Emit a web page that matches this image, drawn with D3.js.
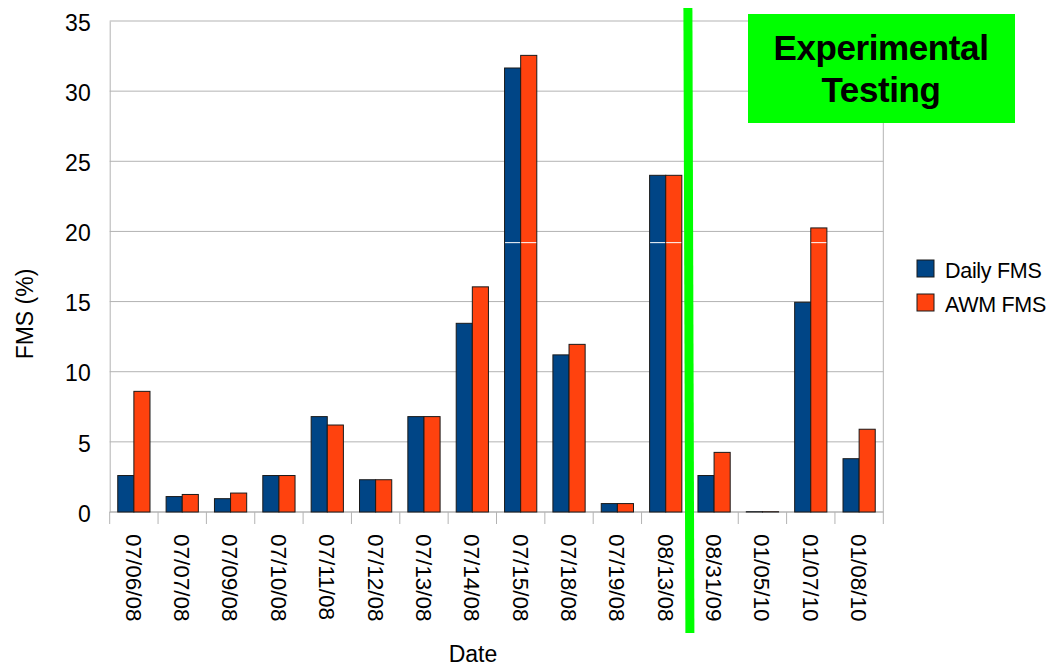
<!DOCTYPE html>
<html>
<head>
<meta charset="utf-8">
<script src="https://cdn.jsdelivr.net/npm/d3@7"></script>
<style>
  body { margin: 0; background: #fff; }
  svg text { font-family: "Liberation Sans", Arial, sans-serif; }
</style>
</head>
<body>
<div id="chart"></div>
<script>
const dates = ["07/06/08", "07/07/08", "07/09/08", "07/10/08", "07/11/08", "07/12/08", "07/13/08", "07/14/08",
  "07/15/08", "07/18/08", "07/19/08", "08/13/08", "08/31/09", "01/05/10", "01/07/10", "01/08/10"];
const dailyFMS = [2.6, 1.1, 0.95, 2.6, 6.8, 2.3, 6.8, 13.45, 31.65, 11.2, 0.6, 24.0, 2.6, 0.02, 14.95, 3.8];
const awmFMS = [8.6, 1.25, 1.35, 2.6, 6.2, 2.3, 6.8, 16.05, 32.55, 11.95, 0.6, 24.0, 4.25, 0.02, 20.25, 5.9];
const seriesNames = ["Daily FMS", "AWM FMS"];
const yTicks = [0, 5, 10, 15, 20, 25, 30, 35];

const colors = ["#004586", "#ff420e"];
const W = 1050, H = 667;
const plotLeft = 109.7, plotRight = 883.3, plotTop = 21, plotBottom = 512;

let svg = d3.select("#chart").append("svg")
  .attr("width", W)
  .attr("height", H);

let x = d3.scaleBand().domain(dates).range([plotLeft, plotRight]);
let bw = x.bandwidth();
let xSub = d3.scaleBand().domain(seriesNames).range([bw / 6, bw * 5 / 6]);
let y = d3.scaleLinear().domain([0, 35]).range([plotBottom, plotTop]);

// grid lines
svg.append("g")
  .selectAll("line")
  .data(yTicks)
  .enter()
  .append("line")
  .attr("x1", plotLeft).attr("x2", plotRight)
  .attr("y1", d => y(d)).attr("y2", d => y(d))
  .style("stroke", "#b3b3b3")
  .style("stroke-width", "1px");

// y axis
let yAxis = svg.append("g")
  .attr("transform", `translate(${plotLeft},0)`)
  .call(d3.axisLeft(y).tickValues(yTicks).tickSize(0).tickPadding(19));
yAxis.select(".domain").style("stroke", "#b3b3b3");
yAxis.selectAll("text")
  .style("font-size", "23px")
  .attr("dy", "0.4em")
  .attr("fill", "#000");

// right border
svg.append("line")
  .attr("x1", plotRight).attr("x2", plotRight)
  .attr("y1", plotTop).attr("y2", plotBottom)
  .style("stroke", "#b3b3b3");

// x axis ticks at band edges
let edges = dates.map(d => x(d)).concat([plotRight]);
svg.append("g")
  .selectAll("line")
  .data(edges)
  .enter()
  .append("line")
  .attr("x1", d => d).attr("x2", d => d)
  .attr("y1", plotBottom).attr("y2", plotBottom + 12)
  .style("stroke", "#b3b3b3");
svg.append("line")
  .attr("x1", plotLeft).attr("x2", plotRight)
  .attr("y1", plotBottom).attr("y2", plotBottom)
  .style("stroke", "#b3b3b3");

// x labels
svg.append("g")
  .selectAll("text")
  .data(dates)
  .enter()
  .append("text")
  .attr("transform", d => `translate(${x(d) + bw / 2},${plotBottom + 22}) rotate(90)`)
  .attr("dy", "0.36em")
  .style("font-size", "22.5px")
  .text(d => d);

// bars
let groups = svg.append("g")
  .selectAll("g")
  .data(dates.map((d, i) => ({ date: d, vals: [dailyFMS[i], awmFMS[i]] })))
  .enter()
  .append("g")
  .attr("transform", d => `translate(${x(d.date)},0)`);

groups.selectAll("rect")
  .data(d => d.vals.map((v, j) => ({ v: v, s: seriesNames[j], c: colors[j] })))
  .enter()
  .append("rect")
  .attr("x", d => xSub(d.s))
  .attr("width", xSub.bandwidth())
  .attr("y", d => y(d.v))
  .attr("height", d => plotBottom - y(d.v))
  .attr("fill", d => d.c)
  .style("stroke", "#1a1a1a")
  .style("stroke-width", "1px");

// thin white render line on tall bars
groups.selectAll("line")
  .data(d => d.vals.map((v, j) => ({ v: v, s: seriesNames[j] })).filter(d => d.v > 19.5))
  .enter()
  .append("line")
  .attr("x1", d => xSub(d.s) + 0.5)
  .attr("x2", d => xSub(d.s) + xSub.bandwidth() - 0.5)
  .attr("y1", y(19.2)).attr("y2", y(19.2))
  .style("stroke", "#fff")
  .style("stroke-width", "1px");

// axis titles
svg.append("text")
  .attr("transform", "translate(32.5,314) rotate(-90)")
  .attr("text-anchor", "middle")
  .style("font-size", "23px")
  .text("FMS (%)");

svg.append("text")
  .attr("x", 473)
  .attr("y", 662)
  .attr("text-anchor", "middle")
  .style("font-size", "23px")
  .text("Date");

// legend
let legend = svg.append("g")
  .attr("transform", "translate(917,260)");
seriesNames.forEach((s, i) => {
  legend.append("rect")
    .attr("x", 0).attr("y", i * 34)
    .attr("width", 17).attr("height", 17)
    .attr("fill", colors[i])
    .style("stroke", "#1a1a1a");
  legend.append("text")
    .attr("x", 28).attr("y", i * 34 + 18)
    .style("font-size", "21.5px")
    .style("letter-spacing", "-0.3px")
    .text(s);
});

// experimental testing divider
let divX = x("08/31/09");
svg.append("line")
  .attr("x1", divX - 2).attr("x2", divX)
  .attr("y1", 8).attr("y2", 633)
  .style("stroke", "#00ff00")
  .style("stroke-width", "9px");

svg.append("rect")
  .attr("x", 748).attr("y", 14)
  .attr("width", 267).attr("height", 109)
  .attr("fill", "#00ff00");

svg.append("text")
  .attr("x", 881).attr("y", 60)
  .attr("text-anchor", "middle")
  .style("font-size", "35px")
  .style("font-weight", "bold")
  .style("letter-spacing", "-0.4px")
  .text("Experimental");
svg.append("text")
  .attr("x", 881).attr("y", 102)
  .attr("text-anchor", "middle")
  .style("font-size", "35px")
  .style("font-weight", "bold")
  .style("letter-spacing", "-0.4px")
  .text("Testing");
</script>
</body>
</html>
